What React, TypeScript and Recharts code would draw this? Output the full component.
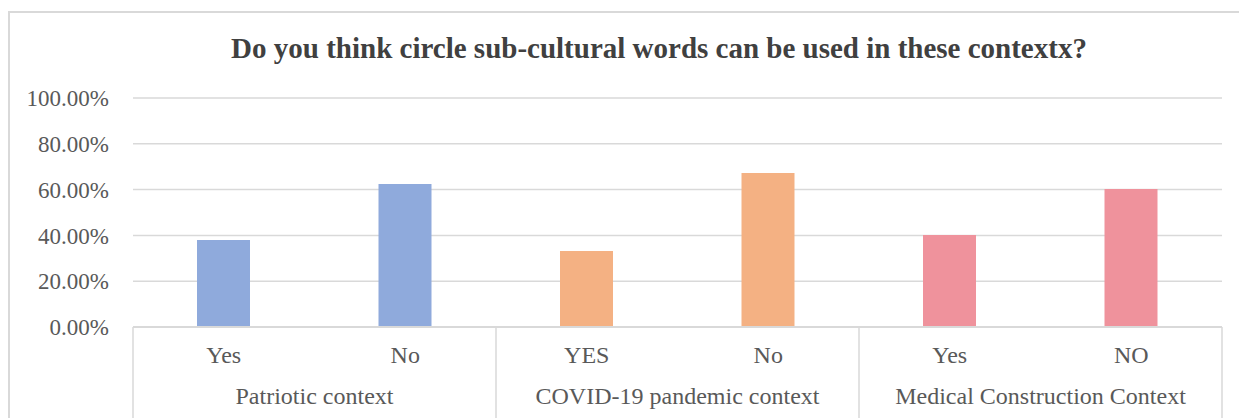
import { Bar, BarChart, CartesianGrid, Cell, XAxis, YAxis } from "recharts";

const groups = ["Patriotic context", "COVID-19 pandemic context", "Medical Construction Context"];
const answers = ["Yes", "No", "YES", "No", "Yes", "NO"];
const shares = [0.38, 0.624, 0.332, 0.672, 0.402, 0.603];
const groupColors = ["#8FAADC", "#F4B183", "#EF929C"];
const yTicks = [0, 0.2, 0.4, 0.6, 0.8, 1];

const data = answers.map((answer, i) => ({
  answer,
  group: groups[Math.floor(i / 2)],
  share: shares[i],
}));

const W = 1239;
const H = 418;
const PLOT_LEFT = 133;
const PLOT_RIGHT = 1222;
const PLOT_TOP = 98;
const AXIS1_H = 45;
const AXIS2_H = 46;
const BAND = (PLOT_RIGHT - PLOT_LEFT) / answers.length;
const FONT = "'Liberation Serif', 'Times New Roman', serif";
const TEXT = "#595959";
const LINE = "#d9d9d9";

function AnswerTick({ x, y, payload }: any) {
  return (
    <text x={x} y={y + 36} textAnchor="middle" fill={TEXT} fontSize={24} fontFamily={FONT}>
      {payload.value}
    </text>
  );
}

function GroupTick({ x, y, payload, index }: any) {
  const top = y - AXIS1_H;
  const left = x - BAND / 2;
  return (
    <g>
      {index % 2 === 0 && (
        <>
          <line x1={left} x2={left} y1={top} y2={H} stroke={LINE} strokeWidth={1.5} />
          <text x={x + BAND / 2} y={y + 32} textAnchor="middle" fill={TEXT} fontSize={24} fontFamily={FONT}>
            {payload.value}
          </text>
        </>
      )}
      {index === answers.length - 1 && (
        <line x1={x + BAND / 2} x2={x + BAND / 2} y1={top} y2={H} stroke={LINE} strokeWidth={1.5} />
      )}
    </g>
  );
}

export default function App() {
  return (
    <div style={{ position: "fixed", left: 0, top: 0, width: W, height: H, overflow: "hidden", background: "#fff" }}>
      <div style={{ position: "absolute", left: 8, top: 11, width: W, height: 1.5, background: LINE }} />
      <div style={{ position: "absolute", left: 8, top: 11, width: 1.5, height: H, background: LINE }} />
      <div
        style={{
          position: "absolute",
          left: 0,
          top: 30,
          width: 1318,
          textAlign: "center",
          fontFamily: FONT,
          fontWeight: "bold",
          fontSize: 29,
          color: "#404040",
          lineHeight: "36px",
        }}
      >
        Do you think circle sub-cultural words can be used in these contextx?
      </div>
      <div style={{ position: "absolute", left: 0, top: 0 }}>
        <BarChart
          width={W}
          height={H}
          data={data}
          margin={{ top: PLOT_TOP, right: W - PLOT_RIGHT, bottom: 0, left: 0 }}
          barCategoryGap={0}
        >
          <CartesianGrid vertical={false} stroke={LINE} strokeWidth={1.5} />
          <XAxis
            dataKey="answer"
            xAxisId={0}
            height={AXIS1_H}
            interval={0}
            tickLine={false}
            tickSize={0}
            tickMargin={0}
            axisLine={{ stroke: LINE, strokeWidth: 2 }}
            tick={<AnswerTick />}
          />
          <XAxis
            dataKey="group"
            xAxisId={1}
            height={AXIS2_H}
            interval={0}
            tickLine={false}
            tickSize={0}
            tickMargin={0}
            axisLine={false}
            tick={<GroupTick />}
          />
          <YAxis
            width={PLOT_LEFT}
            domain={[0, 1]}
            ticks={yTicks}
            axisLine={false}
            tickLine={false}
            tickSize={0}
            tickMargin={24}
            tick={{ fill: TEXT, fontSize: 23, fontFamily: FONT }}
            tickFormatter={(v: number) => `${(v * 100).toFixed(2)}%`}
          />
          <Bar dataKey="share" xAxisId={0} barSize={53} isAnimationActive={false}>
            {data.map((d, i) => (
              <Cell key={i} fill={groupColors[Math.floor(i / 2)]} />
            ))}
          </Bar>
        </BarChart>
      </div>
    </div>
  );
}
